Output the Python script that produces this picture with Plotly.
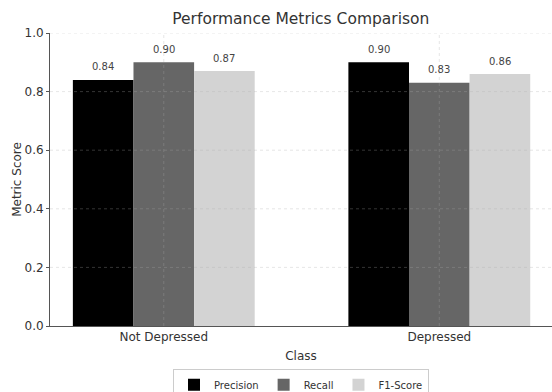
import plotly.graph_objects as go

classes = ["Not Depressed", "Depressed"]
precision = [0.84, 0.90]
recall = [0.90, 0.83]
f1 = [0.87, 0.86]
y_ticks = [0.0, 0.2, 0.4, 0.6, 0.8, 1.0]

series = [("Precision", precision, "#000000"),
          ("Recall", recall, "#666666"),
          ("F1-Score", f1, "#d3d3d3")]

W, H = 552, 392
ML, MR, MT, MB = 50, 0, 33, 66
x_range = [-0.413, 1.409]
bargap = 0.34
px_per_unit = (W - ML - MR) / (x_range[1] - x_range[0])
bar_px = px_per_unit * (1 - bargap) / len(series)

grid_col = "rgba(172,172,172,0.30)"

fig = go.Figure()
for i, (name, vals, col) in enumerate(series):
    fig.add_trace(go.Bar(
        x=classes, y=vals, name=name, marker_color=col,
        marker_line_width=0,
    ))
    for c, v in zip(classes, vals):
        fig.add_annotation(
            x=c, y=v, text=f"{v:.2f}", showarrow=False,
            xshift=(i - (len(series) - 1) / 2) * bar_px, yshift=13,
            yanchor="middle", font=dict(size=10, color="#444444"),
        )

# gridlines drawn above the bars (as in the reference)
for t in y_ticks[1:]:
    fig.add_shape(type="line", xref="paper", x0=0, x1=1, yref="y", y0=t, y1=t,
                  line=dict(color=grid_col, width=1, dash="dot"), layer="above")
for c in classes:
    fig.add_shape(type="line", xref="x", x0=c, x1=c, yref="paper", y0=0, y1=1,
                  line=dict(color=grid_col, width=1, dash="dot"), layer="above")

fig.update_layout(
    width=W, height=H,
    margin=dict(l=ML, r=MR, t=MT, b=MB, autoexpand=False),
    paper_bgcolor="white", plot_bgcolor="white",
    font=dict(family="DejaVu Sans", color="#333333"),
    title=dict(text="Performance Metrics Comparison", x=0.545, xanchor="center",
               y=1 - 19 / H, yanchor="middle", font=dict(size=15.5, color="#333333")),
    barmode="group", bargap=bargap, bargroupgap=0,
    showlegend=True,
    legend=dict(orientation="h", x=0.5, xanchor="center", y=-0.148, yanchor="top",
                bordercolor="#cccccc", borderwidth=1, font=dict(size=10),
                traceorder="normal"),
)
fig.update_xaxes(
    type="category", range=x_range,
    showline=True, linecolor="#555555", linewidth=1,
    showgrid=False,
    ticks="", tickfont=dict(size=12, color="#333333"),
    title=dict(text="Class", font=dict(size=12, color="#333333"), standoff=8),
)
fig.update_yaxes(
    range=[0, 1.0], tickvals=y_ticks, ticktext=[f"{v:.1f}" for v in y_ticks],
    showline=True, linecolor="#555555", linewidth=1,
    showgrid=False,
    ticks="outside", ticklen=3, tickcolor="#555555",
    tickfont=dict(size=12, color="#333333"),
    title=dict(text="Metric Score", font=dict(size=12, color="#333333"), standoff=0),
    zeroline=False,
)
fig.write_html(
    "out.html",
    config={"displayModeBar": False},
    post_script="document.body.style.margin='0';document.body.style.overflow='hidden';",
)
